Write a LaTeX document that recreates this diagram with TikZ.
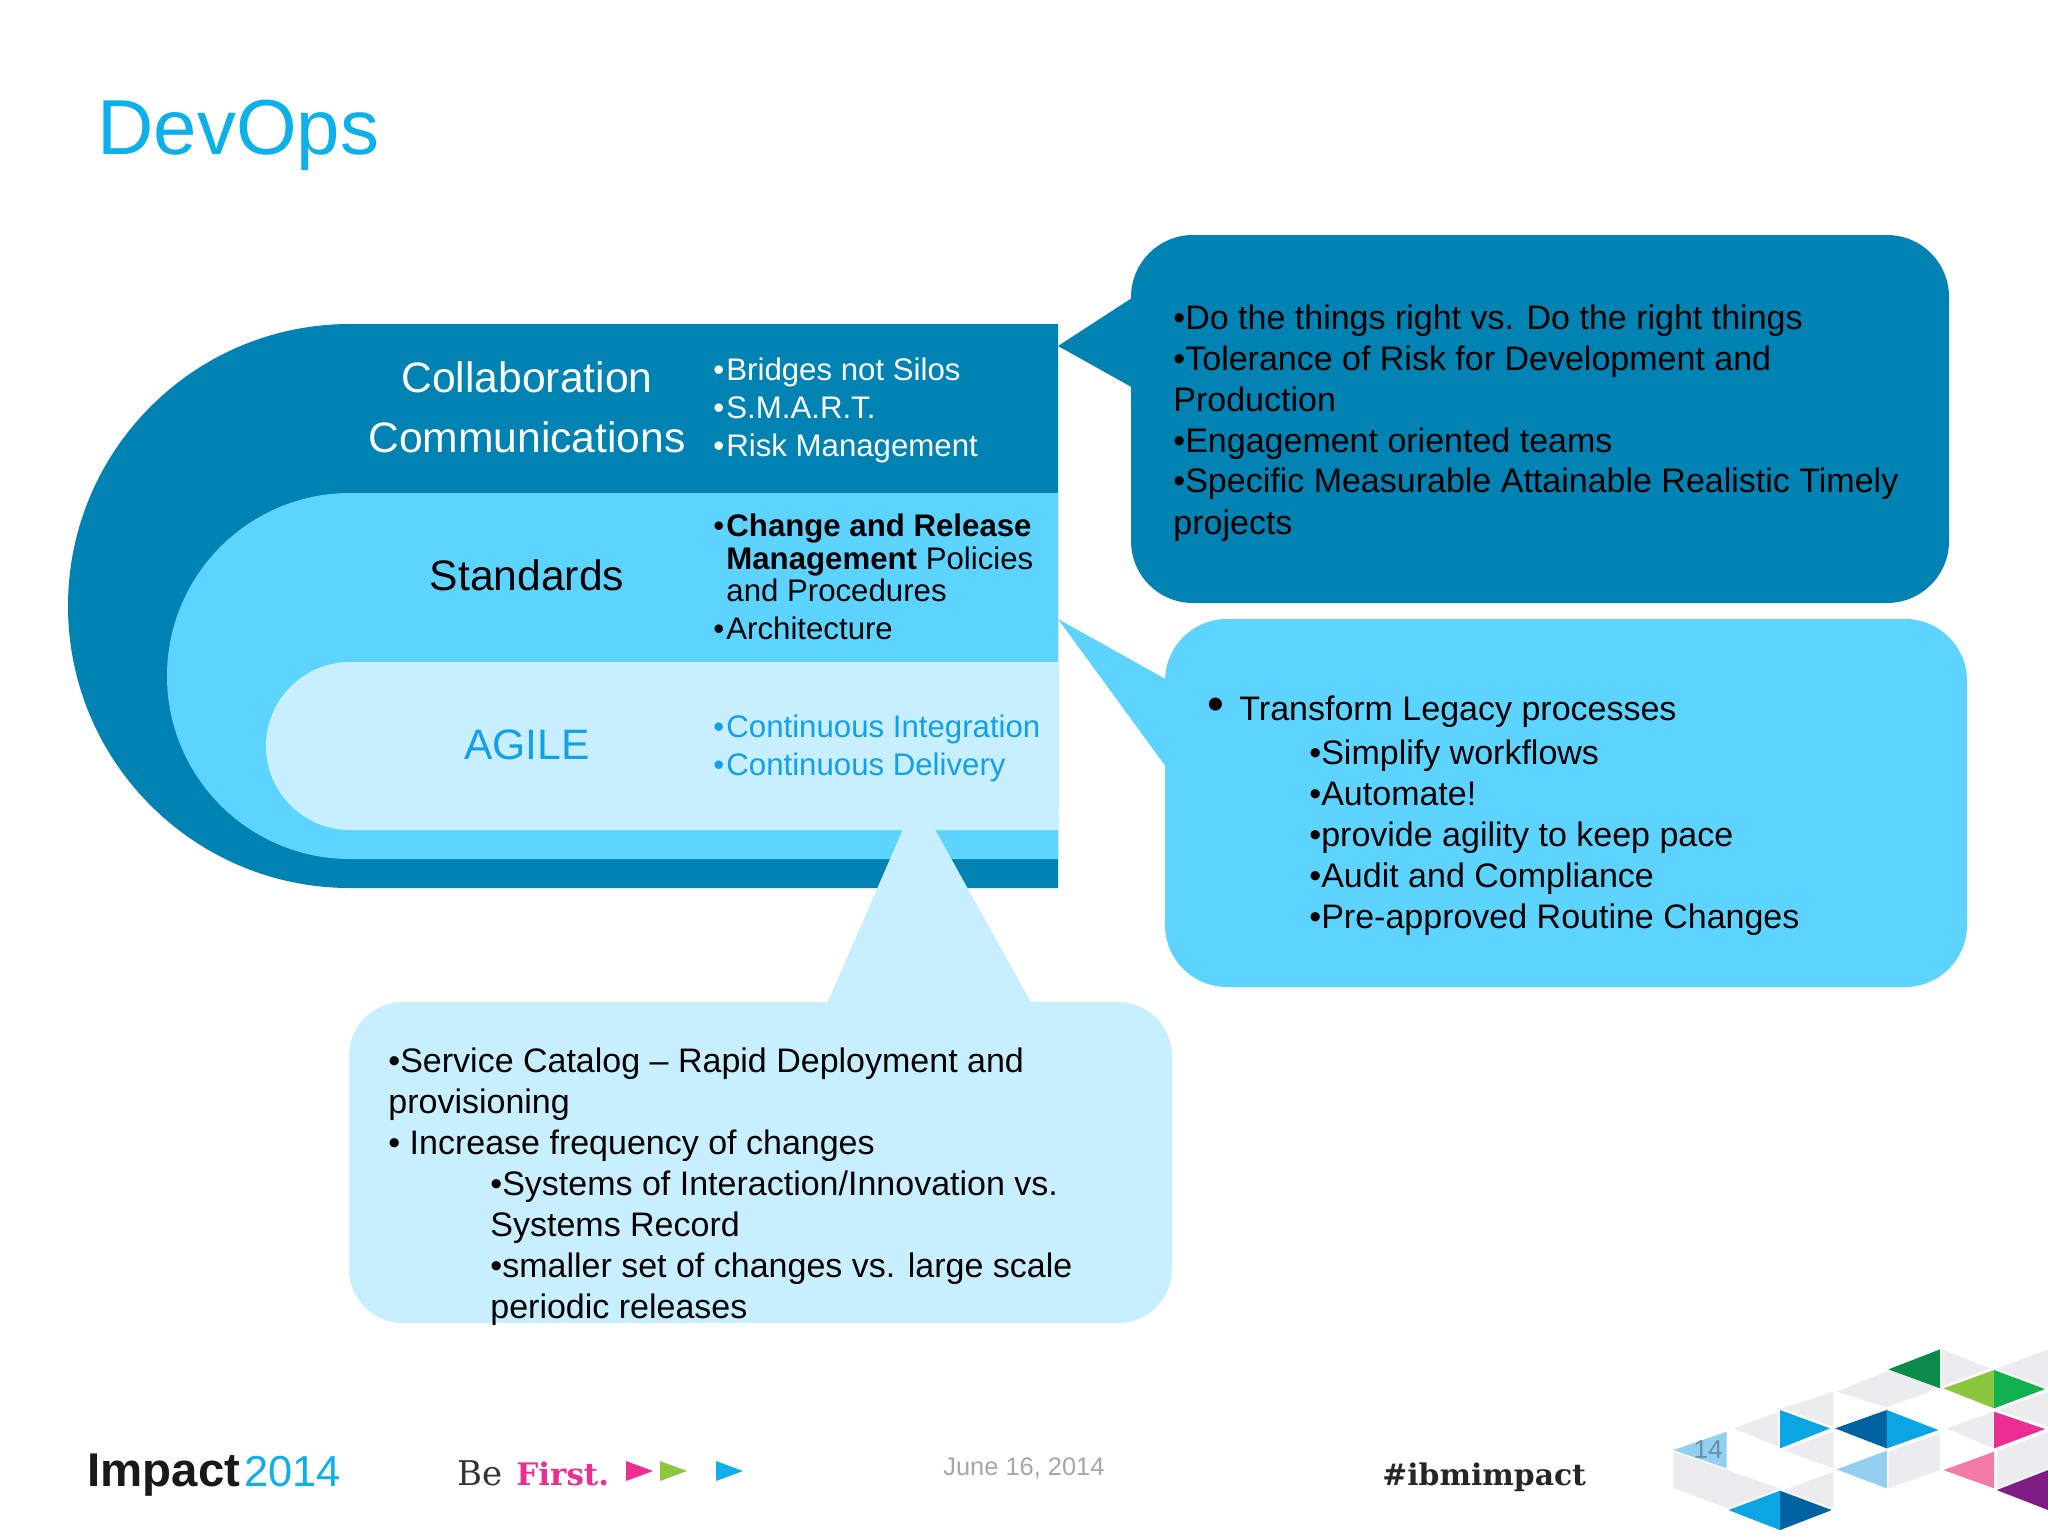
\documentclass[tikz,border=0pt]{standalone}
\usepackage{fontspec}
\setmainfont{Liberation Sans}
\newfontfamily\slabfont{DejaVu Serif}
\definecolor{darkblue}{HTML}{0083B3}
\definecolor{midblue}{HTML}{5CD4FF}
\definecolor{paleblue}{HTML}{C8EFFF}
\definecolor{titleblue}{HTML}{0DB0E8}
\definecolor{agileblue}{HTML}{12A0EA}
\definecolor{tilegrey}{HTML}{ECECEF}
\definecolor{tilepine}{HTML}{0B8A4A}
\definecolor{tilelime}{HTML}{8CC63F}
\definecolor{tilegreen}{HTML}{12B04E}
\definecolor{tilesky}{HTML}{0AA5E3}
\definecolor{tilenavy}{HTML}{0062A0}
\definecolor{tilefade}{HTML}{93CFF0}
\definecolor{tilerose}{HTML}{EC2E93}
\definecolor{tilepink}{HTML}{F27BA8}
\definecolor{tileplum}{HTML}{7F1D84}
\newcommand{\listdot}{\makebox[6.5pt][l]{•}}
\tikzset{
	calltext/.style={anchor=base west, inner sep=0pt, font=\fontsize{17}{20}\selectfont, text=black},
	headtext/.style={anchor=base, inner sep=0pt, font=\fontsize{21.3}{25}\selectfont},
	listtext/.style={anchor=base west, inner sep=0pt, font=\fontsize{15.6}{18}\selectfont}
}
\begin{document}
\begin{tikzpicture}[x=0.5pt,y=-0.5pt]
	\useasboundingbox (0,0) rectangle (2048,1536);
	\node[anchor=base west, inner sep=0pt, text=titleblue, font=\fontsize{39}{44}\selectfont] (title) at (97,155) {DevOps};
	% bands
	\fill[darkblue] (1058,324) -- (350,324) arc[start angle=270, end angle=90, radius=282] -- (1058,888) -- cycle;
	\fill[midblue] (1058,493) -- (350,493) arc[start angle=270, end angle=90, radius=183] -- (1058,859) -- cycle;
	\fill[paleblue] (1058,662) -- (350,662) arc[start angle=270, end angle=90, radius=84] -- (1058,830) -- cycle;
	% callouts
	\fill[darkblue, rounded corners=31pt] (1131,235) rectangle (1949,603);
	\fill[darkblue] (1058,346) -- (1135,296) -- (1135,389) -- cycle;
	\fill[midblue, rounded corners=31pt] (1165,619) rectangle (1967,987);
	\fill[midblue] (1058,619) -- (1169,681) -- (1169,771) -- cycle;
	\fill[paleblue, rounded corners=27pt] (349,1002) rectangle (1172,1323);
	\fill[paleblue] (917,797) -- (826,1006) -- (1033,1006) -- cycle;
	% band labels
	\node[headtext, text=white] (collab) at (527,392) {Collaboration};
	\node[headtext, text=white] (comms) at (527,452) {Communications};
	\node[headtext, text=black] (standards) at (527,590) {Standards};
	\node[headtext, text=agileblue] (agile) at (527,759) {AGILE};
	\node[listtext, text=white] (bridges) at (713,380) {\listdot Bridges not Silos};
	\node[listtext, text=white] (smart) at (713,418) {\listdot S.M.A.R.T.};
	\node[listtext, text=white] (risk) at (713,456) {\listdot Risk Management};
	\node[listtext, text=black] (change) at (713,536) {\listdot\textbf{Change and Release}};
	\node[listtext, text=black] (manage) at (726,569) {\textbf{Management} Policies};
	\node[listtext, text=black] (proc) at (726,601) {and Procedures};
	\node[listtext, text=black] (arch) at (713,639) {\listdot Architecture};
	\node[listtext, text=agileblue] (integ) at (713,737) {\listdot Continuous Integration};
	\node[listtext, text=agileblue] (deliv) at (713,775) {\listdot Continuous Delivery};
	% dark callout text
	\node[calltext] (right1) at (1173,329) {•Do the things right vs. Do the right things};
	\node[calltext] (right2) at (1173,370) {•Tolerance of Risk for Development and};
	\node[calltext] (right3) at (1173,411) {Production};
	\node[calltext] (right4) at (1173,452) {•Engagement oriented teams};
	\node[calltext] (right5) at (1173,492) {•Specific Measurable Attainable Realistic Timely};
	\node[calltext] (right6) at (1173,534) {projects};
	% mid callout text
	\node[calltext, font=\fontsize{24}{26}\selectfont] (legacydot) at (1207,720) {•};
	\node[calltext] (legacy) at (1239,720) {Transform Legacy processes};
	\node[calltext] (legacy1) at (1309,764) {•Simplify workflows};
	\node[calltext] (legacy2) at (1309,805) {•Automate!};
	\node[calltext] (legacy3) at (1309,846) {•provide agility to keep pace};
	\node[calltext] (legacy4) at (1309,887) {•Audit and Compliance};
	\node[calltext] (legacy5) at (1309,928) {•Pre-approved Routine Changes};
	% pale callout text
	\node[calltext] (low1) at (388,1072) {•Service Catalog – Rapid Deployment and};
	\node[calltext] (low2) at (388,1113) {provisioning};
	\node[calltext] (low3) at (388,1154) {• Increase frequency of changes};
	\node[calltext] (low4) at (490,1195) {•Systems of Interaction/Innovation vs.};
	\node[calltext] (low5) at (490,1236) {Systems Record};
	\node[calltext] (low6) at (490,1277) {•smaller set of changes vs. large scale};
	\node[calltext] (low7) at (490,1318) {periodic releases};
	% footer
	\node[anchor=base west, inner sep=0pt, font=\fontsize{23.7}{26}\selectfont\bfseries, text=black!90] (impact) at (87,1486) {Impact};
	\node[anchor=base west, inner sep=0pt, font=\fontsize{21.7}{26}\selectfont, text=titleblue] (year) at (244,1486) {2014};
	\node[anchor=base west, inner sep=0pt, font=\fontsize{17}{20}\slabfont, text=black!80] (be) at (457,1485) {Be};
	\node[anchor=base west, inner sep=0pt, font=\fontsize{15.5}{20}\slabfont\bfseries, text=tilerose] (first) at (516,1485) {First.};
	\fill[tilerose] (626,1461) -- (653,1471) -- (626,1481) -- cycle;
	\fill[tilelime] (660,1461) -- (687,1471) -- (660,1481) -- cycle;
	\fill[titleblue] (716,1461) -- (743,1471) -- (716,1481) -- cycle;
	\node[anchor=base west, inner sep=0pt, font=\fontsize{12.7}{15}\selectfont, text=black!35] (date) at (943,1475) {June 16, 2014};
	\node[anchor=base west, inner sep=0pt, font=\fontsize{14.9}{17}\slabfont\bfseries, text=black!85] (hashtag) at (1382,1485) {\#ibmimpact};
	% tiles
	\begin{scope}[shift={(1640,1320)},x=0.1667pt,y=-0.1667pt]
		\fill[tilegrey] (100,395) -- (260,450) -- (420,505) -- (265,565) -- (100,505) -- cycle;
		\fill[tilegrey] (280,325) -- (415,275) -- (415,380) -- cycle;
		\fill[tilegrey] (425,265) -- (580,215) -- (580,320) -- cycle;
		\fill[tilegrey] (430,390) -- (580,335) -- (580,445) -- cycle;
		\fill[tilegrey] (430,510) -- (580,455) -- (580,565) -- cycle;
		\fill[tilegrey] (590,215) -- (750,150) -- (895,205) -- (740,262) -- cycle;
		\fill[tilegrey] (905,88) -- (1050,145) -- (905,200) -- cycle;
		\fill[tilegrey] (1070,145) -- (1224,88) -- (1224,205) -- cycle;
		\fill[tilegrey] (1070,270) -- (1224,215) -- (1224,320) -- cycle;
		\fill[tilegrey] (920,325) -- (1060,275) -- (1060,385) -- cycle;
		\fill[tilegrey] (745,395) -- (900,340) -- (900,450) -- (745,505) -- cycle;
		\fill[tilegrey] (1070,395) -- (1224,335) -- (1224,445) -- (1070,505) -- cycle;
		\fill[tilepine] (745,148) -- (900,88) -- (900,205) -- cycle;
		\fill[tilelime] (910,205) -- (1062,150) -- (1062,265) -- cycle;
		\fill[tilegreen] (1062,150) -- (1215,207) -- (1062,265) -- cycle;
		\fill[tilesky] (420,270) -- (570,325) -- (420,385) -- cycle;
		\fill[tilenavy] (585,325) -- (740,270) -- (740,385) -- cycle;
		\fill[tilesky] (740,270) -- (895,330) -- (740,385) -- cycle;
		\fill[tilefade] (590,448) -- (740,392) -- (740,505) -- cycle;
		\fill[tilerose] (1062,275) -- (1215,327) -- (1062,385) -- cycle;
		\fill[tilepink] (910,450) -- (1062,395) -- (1062,505) -- cycle;
		\fill[tileplum] (1070,510) -- (1224,450) -- (1224,570) -- cycle;
		\fill[tilefade] (100,390) -- (260,335) -- (260,445) -- cycle;
		\fill[tilesky] (265,570) -- (420,512) -- (420,630) -- cycle;
		\fill[tilenavy] (420,512) -- (575,570) -- (420,630) -- cycle;
	\end{scope}
	\node[inner sep=0pt, font=\fontsize{13}{15}\selectfont, text=black!30!tilefade] (pagenum) at (1708,1450) {14};
\end{tikzpicture}
\end{document}
